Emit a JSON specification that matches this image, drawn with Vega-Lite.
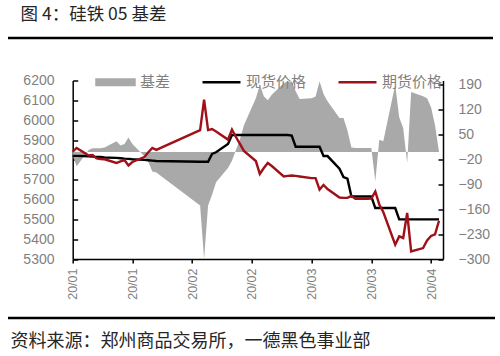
{
  "$schema": "https://vega.github.io/schema/vega-lite/v6.json",
  "width": 370.3,
  "height": 178.5,
  "autosize": "none",
  "padding": {"left": 72.7, "top": 80.5, "right": 57, "bottom": 97},
  "background": "#ffffff",
  "config": {"view": {"stroke": null}},
  "data": {
    "values": [
      {"date": "2020-01-02", "spot": 5820, "futures": 5841, "basis": -10},
      {"date": "2020-01-03", "spot": 5820, "futures": 5860, "basis": -40},
      {"date": "2020-01-06", "spot": 5818, "futures": 5822, "basis": 5},
      {"date": "2020-01-07", "spot": 5816, "futures": 5824, "basis": 10},
      {"date": "2020-01-08", "spot": 5815, "futures": 5807, "basis": 10},
      {"date": "2020-01-09", "spot": 5814, "futures": 5804, "basis": 10},
      {"date": "2020-01-10", "spot": 5812, "futures": 5803, "basis": 12},
      {"date": "2020-01-13", "spot": 5810, "futures": 5784, "basis": 30},
      {"date": "2020-01-14", "spot": 5808, "futures": 5792, "basis": 18},
      {"date": "2020-01-15", "spot": 5806, "futures": 5799, "basis": 22},
      {"date": "2020-01-16", "spot": 5805, "futures": 5772, "basis": 40},
      {"date": "2020-01-17", "spot": 5803, "futures": 5789, "basis": 22},
      {"date": "2020-01-20", "spot": 5800, "futures": 5814, "basis": -12},
      {"date": "2020-01-21", "spot": 5798, "futures": 5838, "basis": -28},
      {"date": "2020-01-22", "spot": 5796, "futures": 5860, "basis": -55},
      {"date": "2020-01-23", "spot": 5794, "futures": 5850, "basis": -58},
      {"date": "2020-02-03", "spot": 5790, "futures": 5950, "basis": -150},
      {"date": "2020-02-04", "spot": 5790, "futures": 6103, "basis": -300},
      {"date": "2020-02-05", "spot": 5790, "futures": 5950, "basis": -150},
      {"date": "2020-02-06", "spot": 5830, "futures": 5955, "basis": -120},
      {"date": "2020-02-07", "spot": 5838, "futures": 5943, "basis": -85},
      {"date": "2020-02-10", "spot": 5880, "futures": 5902, "basis": -45},
      {"date": "2020-02-11", "spot": 5925, "futures": 5952, "basis": -25},
      {"date": "2020-02-12", "spot": 5925, "futures": 5915, "basis": 5},
      {"date": "2020-02-13", "spot": 5925, "futures": 5880, "basis": 35},
      {"date": "2020-02-14", "spot": 5925, "futures": 5845, "basis": 75},
      {"date": "2020-02-17", "spot": 5925, "futures": 5794, "basis": 150},
      {"date": "2020-02-18", "spot": 5925, "futures": 5729, "basis": 188},
      {"date": "2020-02-19", "spot": 5925, "futures": 5759, "basis": 156},
      {"date": "2020-02-20", "spot": 5925, "futures": 5784, "basis": 145},
      {"date": "2020-02-21", "spot": 5925, "futures": 5769, "basis": 160},
      {"date": "2020-02-24", "spot": 5925, "futures": 5716, "basis": 192},
      {"date": "2020-02-25", "spot": 5925, "futures": 5719, "basis": 197},
      {"date": "2020-02-26", "spot": 5922, "futures": 5721, "basis": 197},
      {"date": "2020-02-27", "spot": 5866, "futures": 5719, "basis": 170},
      {"date": "2020-02-28", "spot": 5866, "futures": 5716, "basis": 148},
      {"date": "2020-03-02", "spot": 5866, "futures": 5708, "basis": 150},
      {"date": "2020-03-03", "spot": 5866, "futures": 5708, "basis": 155},
      {"date": "2020-03-04", "spot": 5866, "futures": 5650, "basis": 198},
      {"date": "2020-03-05", "spot": 5819, "futures": 5673, "basis": 162},
      {"date": "2020-03-06", "spot": 5819, "futures": 5653, "basis": 142},
      {"date": "2020-03-09", "spot": 5755, "futures": 5610, "basis": 95},
      {"date": "2020-03-10", "spot": 5713, "futures": 5608, "basis": 95},
      {"date": "2020-03-11", "spot": 5705, "futures": 5608, "basis": 60},
      {"date": "2020-03-12", "spot": 5615, "futures": 5618, "basis": 12},
      {"date": "2020-03-13", "spot": 5615, "futures": 5603, "basis": 11},
      {"date": "2020-03-16", "spot": 5615, "futures": 5603, "basis": 11},
      {"date": "2020-03-17", "spot": 5615, "futures": 5604, "basis": 11},
      {"date": "2020-03-18", "spot": 5557, "futures": 5640, "basis": -82},
      {"date": "2020-03-19", "spot": 5557, "futures": 5575, "basis": 34},
      {"date": "2020-03-20", "spot": 5557, "futures": 5537, "basis": 30},
      {"date": "2020-03-23", "spot": 5557, "futures": 5372, "basis": 188},
      {"date": "2020-03-24", "spot": 5500, "futures": 5414, "basis": 97},
      {"date": "2020-03-25", "spot": 5500, "futures": 5406, "basis": 67},
      {"date": "2020-03-26", "spot": 5500, "futures": 5532, "basis": -31},
      {"date": "2020-03-27", "spot": 5500, "futures": 5338, "basis": 168},
      {"date": "2020-03-30", "spot": 5500, "futures": 5355, "basis": 156},
      {"date": "2020-03-31", "spot": 5500, "futures": 5393, "basis": 150},
      {"date": "2020-04-01", "spot": 5500, "futures": 5416, "basis": 125},
      {"date": "2020-04-02", "spot": 5500, "futures": 5424, "basis": 75},
      {"date": "2020-04-03", "spot": 5500, "futures": 5493, "basis": 0}
    ]
  },
  "encoding": {
    "x": {
      "field": "date", "type": "temporal",
      "scale": {"type": "utc", "domain": [{"year": 2020, "month": 1, "date": 2, "utc": true}, {"year": 2020, "month": 4, "date": 4, "utc": true}]},
      "axis": {
        "orient": "bottom",
        "values": [
          {"year": 2020, "month": 1, "date": 2, "utc": true},
          {"year": 2020, "month": 1, "date": 17, "utc": true},
          {"year": 2020, "month": 2, "date": 1, "utc": true},
          {"year": 2020, "month": 2, "date": 16, "utc": true},
          {"year": 2020, "month": 3, "date": 2, "utc": true},
          {"year": 2020, "month": 3, "date": 17, "utc": true},
          {"year": 2020, "month": 4, "date": 1, "utc": true}
        ],
        "labelExpr": "utcFormat(datum.value, '%y/%m')",
        "labelAngle": 270, "labelFontSize": 12.5, "labelColor": "#7f7f7f", "labelFont": "Liberation Sans",
        "labelPadding": 5, "labelFlush": false, "labelOverlap": false,
        "tickSize": 4, "tickColor": "#000000", "tickWidth": 1.5,
        "domainColor": "#000000", "domainWidth": 1.5, "grid": false,
        "title": "资料来源：郑州商品交易所，一德黑色事业部",
        "titleX": -62.7, "titleY": 87, "titleAlign": "left", "titleAnchor": "start", "titleBaseline": "alphabetic",
        "titleFontSize": 18, "titleFont": "Noto Sans CJK SC", "titleFontWeight": "normal", "titleColor": "#262626"
      }
    }
  },
  "layer": [
    {
      "data": {"values": [{}]},
      "mark": {"type": "rule", "color": "#000000", "strokeWidth": 2.5},
      "encoding": {"x": {"value": -64.7}, "x2": {"value": 420.3}, "y": {"value": -42.5}}
    },
    {
      "data": {"values": [{}]},
      "mark": {"type": "rule", "color": "#000000", "strokeWidth": 2.5},
      "encoding": {"x": {"value": -64.7}, "x2": {"value": 422.3}, "y": {"value": 237.5}}
    },
    {
      "mark": {"type": "area", "interpolate": "linear"},
      "encoding": {
        "y": {
          "field": "basis", "type": "quantitative",
          "scale": {"domain": [-300, 200], "nice": false, "zero": true},
          "axis": {
            "orient": "right", "values": [-300, -230, -160, -90, -20, 50, 120, 190],
            "labelFontSize": 14, "labelColor": "#7f7f7f", "labelFont": "Liberation Sans", "labelOverlap": false, "format": "d",
            "tickSize": -5, "labelPadding": 20, "tickColor": "#000000", "tickWidth": 1.5,
            "domainColor": "#000000", "domainWidth": 1.5, "grid": false, "title": null
          }
        },
        "color": {
          "datum": "基差",
          "scale": {"domain": ["基差", "现货价格", "期货价格"], "range": ["#a9a9a9", "#000000", "#a01018"]},
          "legend": {
            "orient": "none", "legendX": 22.3, "legendY": -19, "direction": "horizontal",
            "title": null, "symbolSize": 1444, "labelFontSize": 15, "labelFont": "Noto Sans CJK SC",
            "labelColor": "#7f7f7f", "labelOffset": 4, "columnPadding": 26, "padding": 0,
            "symbolStrokeWidth": 2.5,
            "encode": {
              "symbols": {
                "update": {
                  "shape": {"signal": "datum.value === '基差' ? 'M-1,-0.15H1V0.15H-1Z' : 'stroke'"},
                  "fill": {"signal": "datum.value === '基差' ? '#a9a9a9' : 'transparent'"},
                  "stroke": {"signal": "datum.value === '基差' ? 'transparent' : (datum.value === '期货价格' ? '#a01018' : '#000000')"},
                  "strokeWidth": {"value": 2.5},
                  "opacity": {"value": 1}
                }
              }
            }
          }
        }
      }
    },
    {
      "encoding": {
        "y": {
          "type": "quantitative",
          "scale": {"domain": [5300, 6200], "nice": false, "zero": false},
          "axis": {
            "orient": "left", "values": [5300, 5400, 5500, 5600, 5700, 5800, 5900, 6000, 6100, 6200],
            "format": "d", "labelOverlap": false,
            "labelFontSize": 14, "labelColor": "#7f7f7f", "labelFont": "Liberation Sans",
            "tickSize": -5, "labelPadding": 23.7, "tickColor": "#000000", "tickWidth": 1.5,
            "domainColor": "#000000", "domainWidth": 1.5, "grid": false,
            "title": "图 4：硅铁 05 基差", "titleAngle": 0, "titleX": -52.7, "titleY": -61,
            "titleAlign": "left", "titleBaseline": "alphabetic", "titleFontSize": 17.5,
            "titleFont": "Noto Sans CJK SC", "titleFontWeight": "normal", "titleColor": "#262626"
          }
        }
      },
      "layer": [
        {
          "mark": {"type": "line", "strokeWidth": 2.4, "interpolate": "linear"},
          "encoding": {
            "y": {"field": "spot"},
            "color": {"datum": "现货价格"}
          }
        },
        {
          "mark": {"type": "line", "strokeWidth": 2.4, "interpolate": "linear"},
          "encoding": {
            "y": {"field": "futures"},
            "color": {"datum": "期货价格"}
          }
        }
      ]
    }
  ],
  "resolve": {"scale": {"y": "independent"}}
}
